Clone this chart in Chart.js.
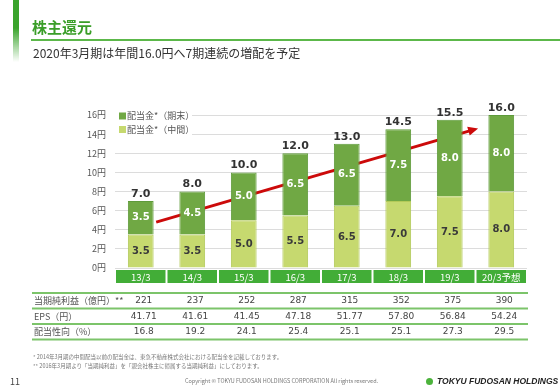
<!DOCTYPE html>
<html><head><meta charset="utf-8">
<script src="https://cdn.jsdelivr.net/npm/chart.js@4.4.1/dist/chart.umd.min.js"></script>
<style>
html,body{margin:0;padding:0;background:#fff;width:560px;height:388px;overflow:hidden;}
#wrap{position:relative;width:560px;height:388px;font-family:"Noto Sans CJK JP","Noto Sans",sans-serif;}
canvas{position:absolute;left:0;top:0;}
.abs{position:absolute;white-space:nowrap;}
#bar{left:13px;top:0;width:6px;height:62px;background:linear-gradient(#3aa42c 0%,#3aa42c 45%,rgba(58,164,44,0) 100%);}
#title{left:32px;top:18px;font-size:15px;font-weight:bold;color:#3a9e28;line-height:18px;}
#rule{left:31px;top:39px;width:529px;height:2px;background:#5cb84a;}
#sub{left:33px;top:45px;font-size:12px;color:#333;line-height:16px;}
.fn{left:33px;font-size:5.5px;color:#777;line-height:7px;}
#pg{left:10px;top:376px;font-size:9px;color:#444;line-height:11px;}
#copy{left:185px;top:378px;font-size:5.5px;color:#777;line-height:7px;}
#logo{left:426px;top:376px;font-size:8.5px;color:#222;font-weight:bold;font-style:italic;line-height:11px;font-family:"Liberation Sans","DejaVu Sans",sans-serif;}
#logo span{display:inline-block;width:7px;height:7px;border-radius:50%;background:#4cb33c;margin-right:4px;vertical-align:-0.5px;}
</style></head>
<body><div id="wrap">
<canvas id="c" width="560" height="388"></canvas>
<div class="abs" id="bar"></div>
<div class="abs" id="title">株主還元</div>
<div class="abs" id="rule"></div>
<div class="abs" id="sub">2020年3月期は年間16.0円へ7期連続の増配を予定</div>
<div class="abs fn" style="top:354px">* 2014年3月期の中間配当以前の配当金は、東急不動産株式会社における配当金を記載しております。</div>
<div class="abs fn" style="top:363px">** 2016年3月期より「当期純利益」を「親会社株主に帰属する当期純利益」にしております。</div>
<div class="abs" id="pg">11</div>
<div class="abs" id="copy">Copyright © TOKYU FUDOSAN HOLDINGS CORPORATION All rights reserved.</div>
<div class="abs" id="logo"><span></span>TOKYU FUDOSAN HOLDINGS</div>
</div>
<script>
const categories = ['13/3','14/3','15/3','16/3','17/3','18/3','19/3','20/3予想'];
const interim = [3.5, 3.5, 5.0, 5.5, 6.5, 7.0, 7.5, 8.0];
const yearEnd = [3.5, 4.5, 5.0, 6.5, 6.5, 7.5, 8.0, 8.0];
const totals = [7.0, 8.0, 10.0, 12.0, 13.0, 14.5, 15.5, 16.0];
const seriesNames = ['配当金*（中間）', '配当金*（期末）'];
const rowLabels = ['当期純利益（億円）**', 'EPS（円）', '配当性向（%）'];
const netIncome = ['221', '237', '252', '287', '315', '352', '375', '390'];
const eps = ['41.71', '41.61', '41.45', '47.18', '51.77', '57.80', '56.84', '54.24'];
const payout = ['16.8', '19.2', '24.1', '25.4', '25.1', '25.1', '27.3', '29.5'];
const trendFrom = [0.3, 4.8];
const trendTo = [6.55, 14.6];

const C_DARK = '#70a844', C_DARK_B = '#5e9a3a', C_LIGHT = '#c6d96f', C_LIGHT_B = '#b2ca58';
const JP = '"Noto Sans CJK JP","Noto Sans",sans-serif';
const NUM = '"DejaVu Sans",Verdana,sans-serif';

const overlay = {
  id: 'overlay',
  beforeDatasetsDraw(chart) {
    const ctx = chart.ctx, x = chart.scales.x, y = chart.scales.y, a = chart.chartArea;
    // legend backdrop
    ctx.save();
    ctx.fillStyle = '#fff';
    ctx.fillRect(a.left - 3, y.getPixelForValue(16) - 6, 80, 28);
    const items = [[seriesNames[1], C_DARK], [seriesNames[0], C_LIGHT]];
    items.forEach((it, i) => {
      const cy = y.getPixelForValue(16) + 1 + i * 13.5;
      ctx.fillStyle = it[1];
      ctx.fillRect(a.left + 4, cy - 3.5, 7, 7);
      ctx.fillStyle = '#555';
      ctx.font = '9px ' + JP;
      ctx.textBaseline = 'middle';
      ctx.textAlign = 'left';
      ctx.fillText(it[0], a.left + 12, cy);
    });
    // trend arrow
    const x0 = x.getPixelForValue(trendFrom[0]), y0 = y.getPixelForValue(trendFrom[1]);
    const x1 = x.getPixelForValue(trendTo[0]), y1 = y.getPixelForValue(trendTo[1]);
    const ang = Math.atan2(y1 - y0, x1 - x0);
    ctx.strokeStyle = '#cc0a0a';
    ctx.lineWidth = 3;
    ctx.beginPath();
    ctx.moveTo(x0, y0);
    ctx.lineTo(x1 - 7 * Math.cos(ang), y1 - 7 * Math.sin(ang));
    ctx.stroke();
    ctx.fillStyle = '#cc0a0a';
    ctx.beginPath();
    ctx.moveTo(x1, y1);
    ctx.lineTo(x1 - 10 * Math.cos(ang) + 4.5 * Math.sin(ang), y1 - 10 * Math.sin(ang) - 4.5 * Math.cos(ang));
    ctx.lineTo(x1 - 10 * Math.cos(ang) - 4.5 * Math.sin(ang), y1 - 10 * Math.sin(ang) + 4.5 * Math.cos(ang));
    ctx.closePath();
    ctx.fill();
    ctx.restore();
  },
  afterDatasetsDraw(chart) {
    const ctx = chart.ctx, x = chart.scales.x, y = chart.scales.y, a = chart.chartArea;
    ctx.save();
    ctx.textAlign = 'center';
    ctx.textBaseline = 'middle';
    categories.forEach((c, i) => {
      const cx = x.getPixelForValue(i);
      // segment labels
      ctx.font = 'bold 10px ' + NUM;
      ctx.fillStyle = '#3a3a3a';
      ctx.fillText(interim[i].toFixed(1), cx, y.getPixelForValue(interim[i] / 2));
      ctx.fillStyle = '#ffffff';
      ctx.fillText(yearEnd[i].toFixed(1), cx, y.getPixelForValue(interim[i] + yearEnd[i] / 2));
      // totals
      ctx.font = 'bold 11px ' + NUM;
      ctx.fillStyle = '#333';
      ctx.fillText(totals[i].toFixed(1), cx, y.getPixelForValue(totals[i]) - 7);
      // category strip
      const w = (a.right - a.left) / categories.length;
      ctx.fillStyle = '#42ad37';
      ctx.fillRect(cx - w / 2 + 1, a.bottom + 2, w - 2, 13);
      ctx.fillStyle = '#fff';
      ctx.font = '9.5px ' + JP;
      ctx.fillText(c, cx, a.bottom + 9);
    });
    // table
    const rows = [netIncome, eps, payout];
    const lineY = [293, 308.5, 324, 339.5];
    ctx.strokeStyle = '#7cc46a';
    ctx.lineWidth = 2;
    lineY.forEach(ly => { ctx.beginPath(); ctx.moveTo(32, ly); ctx.lineTo(a.right + 1, ly); ctx.stroke(); });
    rows.forEach((r, ri) => {
      const ry = (lineY[ri] + lineY[ri + 1]) / 2;
      ctx.textAlign = 'left';
      ctx.fillStyle = '#555';
      ctx.font = '9px ' + JP;
      ctx.fillText(rowLabels[ri], 34, ry);
      ctx.textAlign = 'center';
      ctx.fillStyle = '#444';
      ctx.font = '9px ' + NUM;
      r.forEach((v, i) => ctx.fillText(v, x.getPixelForValue(i) + 3, ry));
    });
    ctx.restore();
  }
};

new Chart(document.getElementById('c'), {
  type: 'bar',
  data: {
    labels: categories,
    datasets: [
      { label: seriesNames[0], data: interim, backgroundColor: C_LIGHT, borderColor: C_LIGHT_B, borderWidth: 1, barPercentage: 0.5, categoryPercentage: 1 },
      { label: seriesNames[1], data: yearEnd, backgroundColor: C_DARK, borderColor: C_DARK_B, borderWidth: 1, barPercentage: 0.5, categoryPercentage: 1 }
    ]
  },
  options: {
    responsive: false,
    animation: false,
    events: [],
    layout: { padding: { top: 115, bottom: 120, left: 0, right: 33 } },
    plugins: { legend: { display: false }, tooltip: { enabled: false } },
    scales: {
      x: { stacked: true, display: false },
      y: {
        stacked: true, min: 0, max: 16,
        afterFit(s) { s.width = 115; },
        border: { display: false },
        grid: { color: '#dcdcdc', lineWidth: 1, drawTicks: false },
        ticks: { stepSize: 2, padding: 9, color: '#555', font: { size: 9, family: JP }, callback: v => v + '円' }
      }
    }
  },
  plugins: [overlay]
});
</script>
</body></html>
